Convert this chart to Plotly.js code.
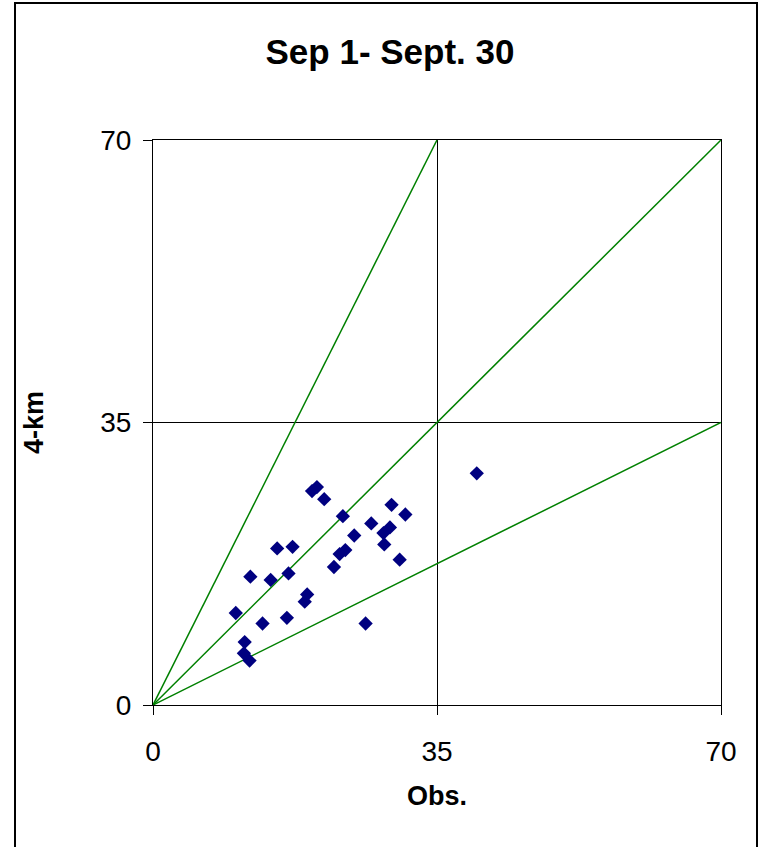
<!DOCTYPE html>
<html>
<head>
<meta charset="utf-8">
<script src="https://cdn.plot.ly/plotly-3.0.1.min.js"></script>
<style>
  html, body { margin: 0; padding: 0; background: #fff; }
  #wrap { position: relative; width: 760px; height: 847px; overflow: hidden; }
  #chart { position: absolute; left: 0; top: 0; width: 760px; height: 847px; }
  #frame { position: absolute; left: 14px; top: 2px; width: 744px; height: 860px; border: 2px solid #000; pointer-events: none; box-sizing: border-box; }
</style>
</head>
<body>
<div id="wrap">
  <div id="chart"></div>
  <div id="frame"></div>
</div>
<script>
// Observed values (x) and 4-km model values (y)
const obsValues = [19.6, 20.2, 21.1, 29.4, 31.1, 23.4, 26.9, 29.2, 28.4, 24.8,
                   28.5, 15.3, 17.2, 23.7, 23.0, 30.4, 22.3, 12.0, 14.5, 16.7,
                   19.0, 18.7, 10.2, 16.5, 13.5, 26.2, 11.3, 11.2, 11.9, 39.9];
const modelValues = [26.5, 27.0, 25.5, 24.8, 23.6, 23.4, 22.5, 22.0, 21.3, 21.0,
                     19.9, 19.4, 19.6, 19.2, 18.7, 18.0, 17.1, 15.9, 15.5, 16.3,
                     13.7, 12.8, 11.4, 10.8, 10.1, 10.1, 7.8, 6.4, 5.5, 28.7];

// Reference lines: 2:1, 1:1, 1:2
const line2to1X = [0, 35];
const line2to1Y = [0, 70];
const line1to1X = [0, 70];
const line1to1Y = [0, 70];
const line1to2X = [0, 70];
const line1to2Y = [0, 35];

const tickValues = [0, 35, 70];
const tickLabels = ['0', '35', '70'];

const titleText = 'Sep 1- Sept. 30';
const xTitle = 'Obs.';
const yTitle = '4-km';

const green = '#008000';
const lineStyle = { color: green, width: 1.5 };
const fontFamily = 'Liberation Sans, Arial, sans-serif';

const traces = [
  { x: line2to1X, y: line2to1Y, mode: 'lines', line: lineStyle, hoverinfo: 'skip' },
  { x: line1to1X, y: line1to1Y, mode: 'lines', line: lineStyle, hoverinfo: 'skip' },
  { x: line1to2X, y: line1to2Y, mode: 'lines', line: lineStyle, hoverinfo: 'skip' },
  { x: obsValues, y: modelValues, mode: 'markers', cliponaxis: false,
    marker: { symbol: 'diamond', size: 11, color: '#000080', line: { width: 0 } } }
];

const axisCommon = {
  range: [0, 70],
  tickvals: tickValues,
  ticktext: tickLabels,
  showgrid: true,
  gridcolor: '#000',
  gridwidth: 1,
  zeroline: false,
  showline: true,
  linecolor: '#000',
  linewidth: 1,
  mirror: true,
  ticks: 'outside',
  ticklen: 9,
  tickcolor: '#000',
  tickwidth: 1,
  tickfont: { family: fontFamily, size: 28, color: '#000' },
  fixedrange: true
};

const layout = {
  width: 760,
  height: 847,
  margin: { l: 153, r: 39, t: 140, b: 142 },
  paper_bgcolor: '#fff',
  plot_bgcolor: '#fff',
  showlegend: false,
  title: {
    text: '<b>' + titleText + '</b>',
    font: { family: fontFamily, size: 35, color: '#000' },
    x: 390 / 760, xref: 'container', xanchor: 'center',
    y: 1 - 52 / 847, yref: 'container', yanchor: 'middle'
  },
  xaxis: Object.assign({}, axisCommon, {
    ticklabelstandoff: 12,
    title: { text: '<b>' + xTitle + '</b>', standoff: 20,
             font: { family: fontFamily, size: 27, color: '#000' } }
  }),
  yaxis: Object.assign({}, axisCommon, {
    ticklabelstandoff: 6,
    title: { text: '<b>' + yTitle + '</b>', standoff: 48,
             font: { family: fontFamily, size: 27, color: '#000' } }
  })
};

Plotly.newPlot('chart', traces, layout, { staticPlot: true, displayModeBar: false });
</script>
</body>
</html>
